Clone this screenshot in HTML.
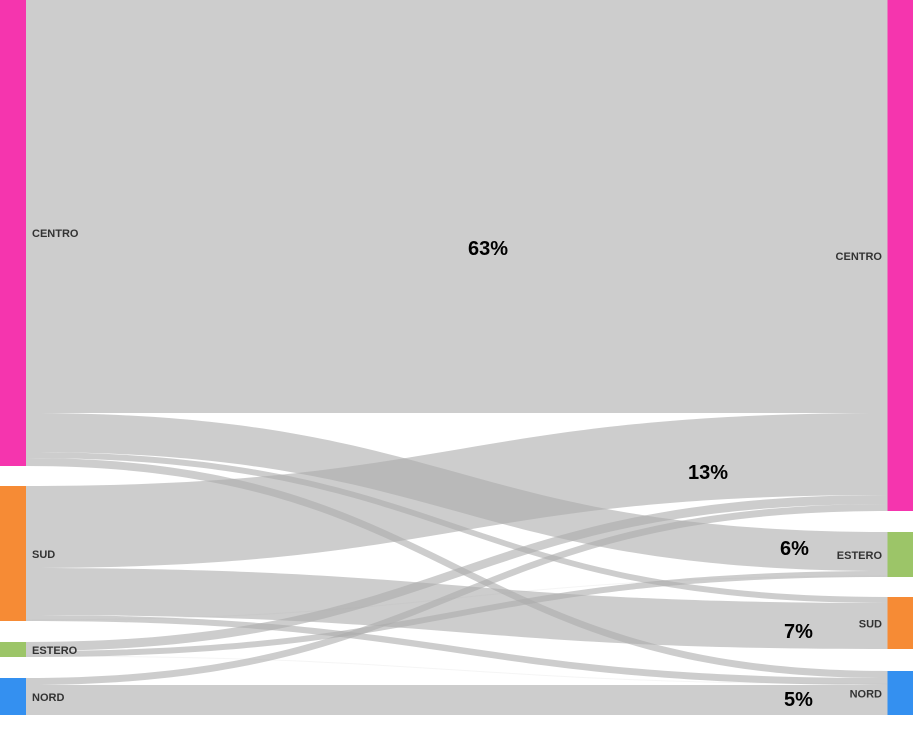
<!DOCTYPE html>
<html>
<head>
<meta charset="utf-8">
<style>
  html, body { margin: 0; padding: 0; background: #ffffff; }
  body { width: 916px; height: 735px; overflow: hidden; }
  svg { display: block; }
  .lbl { font-family: "Liberation Sans", sans-serif; font-weight: bold; font-size: 11px; fill: #333333; }
  .pct { font-family: "Liberation Sans", sans-serif; font-weight: bold; font-size: 20px; fill: #000000; }
</style>
</head>
<body>
<svg width="916" height="735" viewBox="0 0 916 735" xmlns="http://www.w3.org/2000/svg">
  <g fill="#ababab" fill-opacity="0.6">
    <!-- CENTRO -> CENTRO -->
    <path d="M26,0 C457,0 457,0 888,0 L888,413 C457,413 457,413 26,413 Z"/>
    <!-- CENTRO -> ESTERO -->
    <path d="M26,413 C457,413 457,532 888,532 L888,571 C457,571 457,452 26,452 Z"/>
    <!-- CENTRO -> SUD -->
    <path d="M26,452 C457,452 457,597 888,597 L888,603 C457,603 457,458 26,458 Z"/>
    <!-- CENTRO -> NORD -->
    <path d="M26,458 C457,458 457,671 888,671 L888,678 C457,678 457,466 26,466 Z"/>
    <!-- SUD -> CENTRO -->
    <path d="M26,486 C457,486 457,413 888,413 L888,495 C457,495 457,568 26,568 Z"/>
    <!-- SUD -> SUD -->
    <path d="M26,568 C457,568 457,603 888,603 L888,649 C457,649 457,615 26,615 Z"/>
    <!-- SUD -> NORD -->
    <path d="M26,615 C457,615 457,678 888,678 L888,685 C457,685 457,621 26,621 Z"/>
    <!-- ESTERO -> CENTRO -->
    <path d="M26,642 C457,642 457,495 888,495 L888,504 C457,504 457,651 26,651 Z"/>
    <!-- ESTERO -> ESTERO -->
    <path d="M26,651 C457,651 457,571 888,571 L888,577 C457,577 457,657 26,657 Z"/>
    <!-- NORD -> CENTRO -->
    <path d="M26,678 C457,678 457,504 888,504 L888,511 C457,511 457,685 26,685 Z"/>
    <!-- NORD -> NORD -->
    <path d="M26,685 C457,685 457,685 888,685 L888,715 C457,715 457,715 26,715 Z"/>
  </g>
  <!-- faint tiny flows -->
  <g fill="none" stroke="#ababab" stroke-opacity="0.12" stroke-width="1">
    <path d="M26,656 C457,656 457,684 888,684"/>
    <path d="M26,620 C457,620 457,576 888,576"/>
  </g>

  <!-- left nodes -->
  <rect x="0" y="0" width="26" height="466" fill="#f535ae"/>
  <rect x="0" y="486" width="26" height="135" fill="#f68b35"/>
  <rect x="0" y="642" width="26" height="15" fill="#9cc568"/>
  <rect x="0" y="678" width="26" height="37" fill="#3490f0"/>

  <!-- right nodes -->
  <rect x="887.5" y="0" width="25.5" height="511" fill="#f535ae"/>
  <rect x="887.5" y="532" width="25.5" height="45" fill="#9cc568"/>
  <rect x="887.5" y="597" width="25.5" height="52" fill="#f68b35"/>
  <rect x="887.5" y="671" width="25.5" height="44" fill="#3490f0"/>

  <!-- left labels -->
  <text class="lbl" x="32" y="237">CENTRO</text>
  <text class="lbl" x="32" y="558">SUD</text>
  <text class="lbl" x="32" y="654">ESTERO</text>
  <text class="lbl" x="32" y="701">NORD</text>

  <!-- right labels -->
  <text class="lbl" x="882" y="260" text-anchor="end">CENTRO</text>
  <text class="lbl" x="882" y="559" text-anchor="end">ESTERO</text>
  <text class="lbl" x="882" y="627.5" text-anchor="end">SUD</text>
  <text class="lbl" x="882" y="697.5" text-anchor="end">NORD</text>

  <!-- percentages -->
  <text class="pct" x="468" y="255">63%</text>
  <text class="pct" x="688" y="479">13%</text>
  <text class="pct" x="780" y="555">6%</text>
  <text class="pct" x="784" y="638">7%</text>
  <text class="pct" x="784" y="706">5%</text>
</svg>
</body>
</html>
